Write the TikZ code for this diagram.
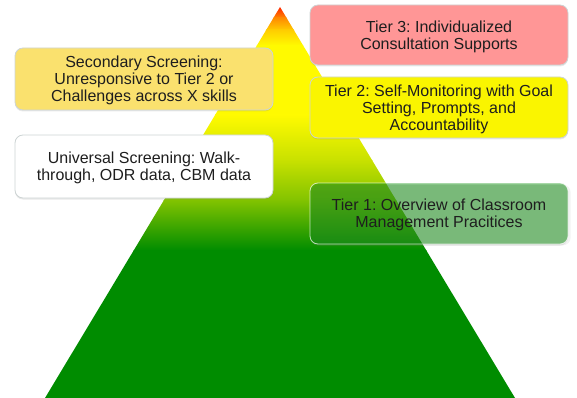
\documentclass[tikz,border=0pt]{standalone}
\usepackage{fontspec}
\setmainfont{Liberation Sans}
\frenchspacing
\usetikzlibrary{shadows}
\definecolor{pgreen}{RGB}{0,140,0}
\definecolor{pred}{RGB}{255,30,0}
\definecolor{porange}{RGB}{255,140,0}
\definecolor{pamber}{RGB}{255,205,0}
\definecolor{pyellow}{RGB}{255,250,0}
\definecolor{plime}{RGB}{200,225,0}
\definecolor{plgreen}{RGB}{130,195,0}
\definecolor{tierthree}{RGB}{255,150,150}
\definecolor{tiertwo}{RGB}{250,245,0}
\definecolor{secfill}{RGB}{250,225,110}
\definecolor{txtcol}{RGB}{30,30,30}
\definecolor{bordcol}{RGB}{205,212,212}
\begin{document}
\begin{tikzpicture}[x=1pt,y=-1pt,
  box/.style={rounded corners=8pt, minimum width=258pt, draw=bordcol, line width=0.8pt,
    align=center, font=\fontsize{16}{17}\selectfont, text=txtcol, inner sep=0pt,
    text depth=0pt,
    drop shadow={opacity=0.18, shadow xshift=0pt, shadow yshift=-1.5pt}},
  band/.style={draw=none}]
\useasboundingbox (0,0) rectangle (577,398);
\coordinate (apex) at (280,7);
\coordinate (bl) at (45,398);
\coordinate (br) at (515,398);
\begin{scope}
  \clip (apex) -- (bl) -- (br) -- cycle;
  \shade[band, top color=pred, bottom color=porange] (0,6) rectangle (577,18.5);
  \shade[band, top color=porange, bottom color=pamber] (0,18) rectangle (577,30.5);
  \shade[band, top color=pamber, bottom color=pyellow] (0,30) rectangle (577,45.5);
  \fill[pyellow] (0,45) rectangle (577,115.5);
  \shade[band, top color=pyellow, bottom color=plime] (0,115) rectangle (577,160.5);
  \shade[band, top color=plime, bottom color=plgreen] (0,160) rectangle (577,200.5);
  \shade[band, top color=plgreen, bottom color=pgreen] (0,200) rectangle (577,250.5);
  \fill[pgreen] (0,250) rectangle (577,399);
\end{scope}
\node[box, fill=tierthree, minimum height=60pt] (t3) at (439,35)
  {Tier 3: Individualized\\Consultation Supports};
\node[box, fill=tiertwo, minimum height=61pt] (t2) at (439,107.5)
  {Tier 2: Self-Monitoring with Goal\\Setting, Prompts, and\\Accountability};
\node[box, fill=pgreen, fill opacity=0.45, text opacity=1, draw=white, draw opacity=0.7,
  minimum height=61pt, drop shadow={opacity=0.1, shadow yshift=-1.5pt}] (t1) at (439,213.5)
  {Tier 1: Overview of Classroom\\Management Pracitices};
\node[box, fill=secfill, minimum height=62pt] (sec) at (144,79)
  {Secondary Screening:\\Unresponsive to Tier 2 or\\Challenges across X skills};
\node[box, fill=white, minimum height=63pt] (uni) at (144,166.5)
  {Universal Screening: Walk-\\through, ODR data, CBM data};
\end{tikzpicture}
\end{document}
